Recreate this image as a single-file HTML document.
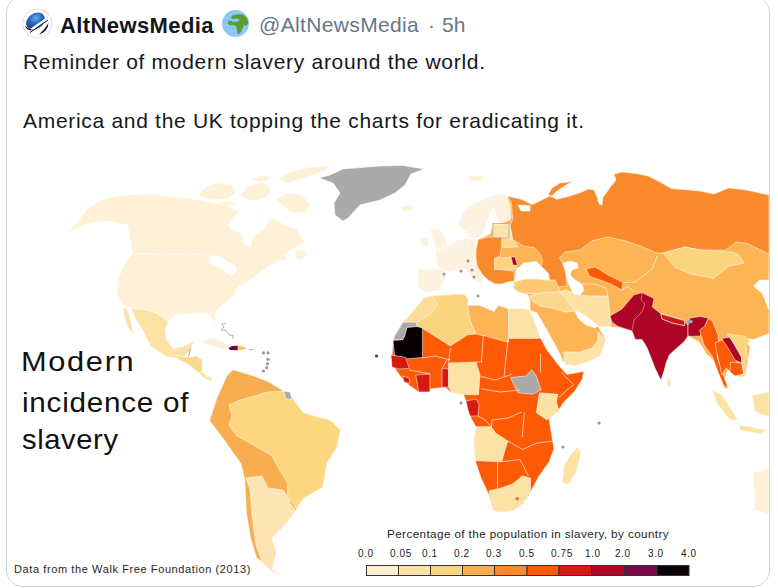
<!DOCTYPE html>
<html><head><meta charset="utf-8">
<style>
html,body{margin:0;padding:0;background:#fff;width:778px;height:588px;overflow:hidden;position:relative;font-family:"Liberation Sans",sans-serif;}
.card{position:absolute;left:6px;top:-4px;width:764px;height:591px;border:1px solid #cfd6db;border-radius:17px;box-sizing:border-box;}
.t{position:absolute;white-space:nowrap;}
#map{position:absolute;left:0;top:0;}
</style></head><body>
<svg id="map" width="778" height="588" viewBox="0 0 778 588">
<g stroke="#fff" stroke-width="0.7" stroke-opacity="0.75" stroke-linejoin="round">
<!-- North America -->
<path fill="#FEF1D8" d="M65,234 L75,225 L87.6,208.8 L100,200 L120,195.5 L150,193.8 L180,197.5 L200,200 L225,205 L238.7,211.8 L262,213 L267,222 L273,218 L285,225 L297,229 L300,235.8 L305.3,242.6 L294.4,248 L283.6,254.9 L287.4,258.7 L274.3,262.4 L261,271.8 L250,280.3 L238.7,286.7 L233.5,295.7 L222,304.7 L216.8,309.8 L214.5,317 L215.6,325.3 L211,316 L209,313.7 L198.8,312.4 L188.6,313.7 L175.7,315 L168,321.4 L157.7,313.7 L150,311 L131,308 L122.7,305.3 L116.4,292.8 L117.7,280 L125,262.7 L132.7,252.7 L127.7,225 L107.6,221 L87.6,224 L72.5,230 Z"/>
<path fill="#fff" stroke="none" d="M227.4,225 L238.7,211.8 L264.9,213.7 L268.6,219.3 L264.9,228.7 L253.7,236.2 L250,247.4 L244.3,243.7 L242.4,234.3 L231.2,228.7 Z"/>
<path fill="#fff" stroke="none" d="M209,258 L214,255 L222,257 L228,262 L236,266 L237,271 L232,276 L226,273 L221,268 L215,266 L211,263 Z"/>
<path fill="#FEF1D8" d="M198,196 L205,187 L218,183 L232,185 L236,192 L228,199 L212,200 Z M240,196 L248,186 L262,182 L272,188 L266,198 L252,201 Z M276,199 L288,193 L302,195 L311,205 L304,213 L290,212 Z M277,180 L290,172 L310,167 L332,165.7 L322,172 L305,178 L288,183 Z M250,180 L262,175 L272,177 L264,182 Z M215,203 L230,201 L238,204 L226,206 Z"/>
<path fill="#FEF1D8" d="M295,251 L302,249 L308,254 L301,260.5 L295,257 Z"/>
<!-- Greenland -->
<path fill="#AAAAAA" d="M319,178 L330,175 L343,169 L380,166 L403,165.5 L424,169 L411,174 L405,185 L395,193 L380,200 L360,205 L348,218 L343,221 L335,215 L334,203 L340,193 L333,183 Z"/>
<path fill="#FEF1D8" d="M399,207 L408,205 L414,209 L405,212 Z M468,176 L485,176 L480,181 L470,181 Z"/>
<!-- Mexico / Central America -->
<path fill="#FDE2A6" d="M131,308 L150,311 L157.7,313.7 L168,321.4 L165.4,329 L166.7,340 L173.8,349 L186,345 L194.3,340.8 L190.2,351 L182,358 L175,358 L167.6,357.2 L151,347 L143,331 L135,318 Z M123.4,307 L128,310 L131,322 L134,335 L128,328 L124,316 Z"/>
<path fill="#FBD98A" d="M176,355 L184,357 L191,357 L197,356 L202.4,360 L202.4,372 L199,373 L193,368 L186,363 L179,360 Z"/>
<path fill="#FDE2A6" d="M199,372 L202.4,372 L207,376 L211.7,378 L211.7,381.4 L206,379.5 L200,375 Z"/>
<!-- Caribbean -->
<path fill="#FEF1D8" stroke="none" d="M203,340 L212,338 L222,341 L229,346 L224,349 L214,346 L205,344 Z"/>
<path fill="none" stroke="#7d8aa5" stroke-width="0.9" d="M226,323.5 L221.5,324 L224,327 L221,330 L226,330.5 L229,335 L233,335.5 L233,339"/>
<path fill="#6e0a3e" stroke="none" d="M228.5,348 L232,346 L237.8,345.8 L237.8,350.3 L230,350 Z"/>
<path fill="#F8C46A" stroke="none" d="M237.8,345.8 L243,346.5 L246.8,348.5 L243,349.7 L237.8,350 Z"/>
<path fill="none" stroke="#7d8aa5" stroke-width="1" d="M249.4,349.4 L253.3,349.4"/>
<path fill="none" stroke="#7d8aa5" stroke-width="1" d="M190.5,348.5 L188.5,356.5"/>
<!-- South America -->
<path fill="#F8AE50" d="M227,375.6 L233,369.7 L252.5,375.6 L268,381.4 L283.8,391.2 L291.6,397 L303,412.7 L330.6,420.5 L340.4,430.3 L336.5,447.8 L326.7,463.5 L322.8,487 L303.3,498.6 L295.5,510.3 L287.7,522 L272,537.7 L276,553.3 L272,569 L283.8,576.8 L272,571 L256.4,557.3 L250.5,537.7 L246.6,514.3 L244.7,479 L240.8,463.5 L221.3,436 L209.5,420.5 L217.3,397 Z"/>
<path fill="#FDD680" d="M229,405 L240,400 L255,396 L268,392 L283.8,391.2 L291.6,397 L303,412.7 L330.6,420.5 L340.4,430.3 L336.5,447.8 L326.7,463.5 L322.8,487 L303.3,498.6 L295.5,508 L287.7,494.7 L287.7,483 L280,471 L272,455.7 L244.7,440 L237,436 L229,425 L232,415 Z"/>
<path fill="#FCE4B3" d="M246,478 L262,476 L268,488 L283,490 L290,500 L289.6,502.5 L295.5,510.3 L287.7,522 L272,537.7 L276,553.3 L272,569 L283.8,576.8 L272,571 L262,562 L256,545 L252,515 L250,490 Z"/>
<path fill="#AAAAAA" d="M283.8,391.2 L290,392 L292,399 L286,399 Z"/>
<!-- Europe -->
<path fill="#FDF2E0" d="M458,224 L462,214 L470,206 L480,201 L492,196 L502,194 L509,196 L511,201 L512.6,219 L509,222 L503,224 L499,222 L496,214 L493,208 L490,212 L487,222 L484,232 L478,238 L472,237 L467,233 Z M430,230 L438,228 L445,236 L448,249 L436,251 L434,243 Z M420.4,238 L428,237 L429,246 L421,247.5 Z M435,250 L448,246 L455,241 L463,239 L470,239 L476,239 L476,250 L476,258 L477,266 L482,274 L482,283 L476,282 L470,274 L464,268 L458,270 L450,272 L443,270 L437,264 Z M418,269 L443,269 L446,277 L440,290 L426,293 L418,287 Z M468,228 L474,228 L476,238 L468,238 Z"/>
<!-- Eurasia base -->
<path fill="#FCB455" d="M478,239.5 L490,234 L493,224 L505,222 L511,219 L510,205 L507,196 L521.4,199.3 L532,204.6 L535.7,203 L550,196 L557,199.3 L570,196 L582,192 L588,189 L594,190 L597,197 L599,204 L602,205 L603,197 L607,192 L611,186 L616,180 L614,174 L622,172 L636,173.5 L648,176 L660,182 L671.4,188.6 L700,191 L714,194 L728.6,188 L746.4,190 L769,195 L769,280 L759.6,280 L753.5,286 L762.7,294 L767.3,306 L769,310 L769,333.5 L753.5,339.6 L744,338 L750,347 L748,362 L742,375 L738,377 L735,366 L729,366 L724,381 L729,388.5 L724,388.5 L718,372 L716,362 L707,355 L699,342 L688,336 L684.7,341 L669.4,354.7 L666,363.2 L664.3,370 L660.9,380.2 L655,368 L647.2,347.9 L642.1,339.4 L635.3,339.4 L632,330.9 L620,327.4 L611,327 L598,326 L606,340 L600,356 L588,362 L574,366 L564,364 L560,354 L548,332 L537,313 L530,310 L530,300 L528,295 L518,292 L513,288 L514,282 L508,280 L502,284 L495,284 L488,280 L482,274 L477,266 L476,258 L476,250 Z"/>
<path fill="#F98B2C" d="M507,196 L521.4,199.3 L532,204.6 L535.7,203 L550,196 L557,199.3 L570,196 L582,192 L588,189 L594,190 L597,197 L599,204 L602,205 L603,197 L607,192 L611,186 L616,180 L614,174 L622,172 L636,173.5 L648,176 L660,182 L671.4,188.6 L700,191 L714,194 L728.6,188 L746.4,190 L769,195 L769,254 L746,243 L736,242 L726,250 L700,250 L685,247 L663,253 L657,253 L638.6,245.4 L624.7,240.8 L607.8,237 L592.3,240.8 L580,250 L565,252 L559.5,258 L562,262 L566,272 L567,286 L558,287 L549,280 L548.7,274 L541,266 L542.5,261.6 L541,255.4 L534.4,247.6 L523.5,246.2 L512.6,239.4 L510,225.8 L512.6,219 L511.2,201.3 Z M548,195 L552,188 L560,183 L573,181.5 L566,185 L557,191 L552,196 Z"/>
<path fill="#fff" d="M518,205 L530,205.5 L530,211 L521,211 Z"/>
<path fill="#FBD98E" d="M501.7,236.7 L512.6,239.4 L518,247 L501.7,247.6 L500,242 Z"/>
<path fill="#FCE3A8" d="M493,224 L508.5,224 L510,226 L512.6,239.4 L501,237 L493,237 Z"/>
<path fill="#F98B2C" d="M478,239.5 L488,237 L501.7,237 L501.7,247.6 L500,256 L495,258 L494.7,269 L514,271 L514.7,281 L508,282 L502,284 L495,284 L488,280 L482,274 L477,266 L476,258 L476,250 Z"/>
<path fill="#FBD47F" d="M494.7,258.5 L511,257 L517,265 L514.7,269.3 L494.7,269.3 Z"/>
<path fill="#AC0525" d="M511,257 L515,257 L517.5,265.5 L513,265 Z"/>
<path fill="#FBCB72" d="M513.2,287.8 L516.3,281.7 L524,279 L534.8,278.6 L548,280 L554.9,280 L558,286.3 L560,292 L547,292.5 L536,294 L524,293.2 L518,292 Z"/>
<path fill="#fff" d="M514.7,281.7 L516.3,269.3 L524,263 L536.4,261.6 L541,266.2 L548.7,274 L549,280 L534.8,278.6 L524,279 Z"/>
<path fill="#FCD88E" d="M530,296 L536,294 L547,292.5 L560,292 L566,290 L568,300 L575,311 L565,312 L552,308 L540,306 L533,302 Z"/>
<path fill="#FDE0A4" d="M560,292 L566,290 L573,293 L580,295 L590,296 L608,296 L610,314 L611,327 L598,326 L590,320 L583,315 L575,311 L568,300 Z"/>
<path fill="#fff" d="M563,263 L570,261 L577,263 L578,268 L572,270 L570,275 L575,280 L582,284 L584,290 L580,295 L573,293 L570,287 L567,279 L565,270 Z"/>
<path fill="#FE5A06" d="M586.2,268.6 L595.4,267 L607.8,274.7 L623.2,282.5 L621.7,290 L610.9,284 L600,280 L589.3,276.3 Z"/>
<path fill="#fff" d="M575,311 L583,314 L592,321 L598,326 L595,328 L586,325 L578,318 Z"/>
<path fill="#FDE2A6" d="M564,352 L580,352 L592,348 L598,340 L598,332 L606,340 L600,356 L588,362 L574,366 L564,364 Z"/>
<path fill="#FBD47F" d="M663.3,253 L685,247 L700,250 L733.5,252.3 L740,256 L744,263 L729,266 L713.6,278.3 L694,274.7 L690.6,273.7 L675.3,267.6 Z"/>
<!-- South Asia -->
<path fill="#AC0525" d="M610,316 L622,309 L627,303 L633.6,295.1 L642.1,292.6 L654,298.5 L652.3,307 L660.9,313.8 L684.7,320.6 L688,325.7 L688,336 L684.7,341 L669.4,354.7 L666,363.2 L664.3,370 L660.9,380.2 L655,368 L647.2,347.9 L642.1,339.4 L635.3,339.4 L632,330.9 L618,326.4 L612,322 Z"/>
<path fill="none" stroke="#f4a0a8" stroke-width="0.8" d="M642.1,292.6 L641,300 L645,304 L642,312 L634,320 L632,330.9"/>

<path fill="#C81A18" stroke-width="1" d="M660.9,313.8 L684.7,320.6 L684.7,325.7 L672,323 L662,319 Z"/>





<path fill="#AC0525" d="M688,325.7 L690,318 L700,316.5 L708.4,318 L705,326 L700,336 L692,336.4 L688,336 Z"/>
<path fill="#FE5A06" d="M699.6,330 L705,326 L708.4,318 L713,322 L718,335 L719.4,348 L717,356 L722,372 L728,387 L724,386 L718,372 L712,356 L704,345 Z"/>
<path fill="#FE5A06" d="M715,343 L722,340 L729,343 L737,355 L737,374 L731,372 L726,368 L722,375 L718,358 Z"/>
<path fill="#AC0525" d="M721.7,338.6 L730,337 L741.5,357 L741.5,363 L735,360 L728,348 Z"/>
<path fill="#FE5A06" d="M730.5,362 L741.5,363 L743.8,374 L735,376 L730,372 Z"/>
<path fill="#FBD47F" d="M727,334 L744,336 L750.4,340.8 L746,346 L748,362 L745,376 L738,378.4 L743.8,374 L741.5,357 L735,345 Z"/>
<ellipse cx="689.8" cy="321.5" rx="3" ry="1.8" fill="#9aa3b8" stroke="none"/>
<path fill="#FDE2A6" d="M667,378.5 L670.5,379.5 L671,387 L667.5,386 Z M712,390 L722,395 L738,420 L730,420 L718,405 Z M739,425 L767,430 L760,434 L740,430 Z M752,395 L769,392 L769,417 L755,412 Z"/>
<path fill="#FEF1D8" d="M753,473 L769,468 L769,515 L755,510 Z"/>
<!-- Africa -->
<path fill="#FE5A06" d="M424.3,297.5 L432,296 L463,294 L468,298 L467.8,305.4 L480,305.4 L494,311.6 L498.6,305.4 L508.5,309 L520,308.5 L530,310 L539.4,336 L547,350 L556.3,362.2 L562.4,369.8 L567,374.4 L583.8,371.3 L582.3,379 L574.6,391.3 L564,402 L557.8,411.2 L549,418 L551,431 L554,449 L549,462 L539,476 L531,491 L524,503 L512,511 L498,512 L493,509 L489,495 L481,478 L475,460 L474,441 L476,427 L471,418 L467,404 L463.5,394.7 L452.3,392.8 L444.8,387.2 L429.9,389 L418.6,391.9 L409.3,385.3 L401.8,377.9 L396.2,370.4 L391.5,361 L393.4,338.6 L401.8,323.6 L407.4,318 L415,308.7 Z"/>
<path fill="#FBD47F" d="M424.3,297.5 L432,296 L463,294 L468,298 L467.8,305.4 L470,320 L476,334 L467.2,334.9 L450.4,346 L422.4,328.3 L415.8,326.4 L401.8,323.6 L407.4,318 L415,308.7 Z"/>
<path fill="#FCDC98" d="M424.3,297.5 L432,296 L437,304 L432,313 L420,320 L415.8,323 L401.8,323.6 L407.4,318 L415,308.7 Z"/>
<path fill="#FCB455" d="M467.8,305.4 L480,305.4 L494,311.6 L498.6,305.4 L508.5,309 L508.5,342.5 L486.3,336.3 L476,334 L470,320 Z"/>
<path fill="#FDE2A6" d="M508.5,309 L520,308.5 L530,310 L539.4,336 L539.4,338.4 L508.8,338.4 Z"/>
<path fill="#AAAAAA" d="M402.9,322.2 L416.5,322.2 L416.5,326.5 L407,327.5 L404.6,336.3 L402.9,339.7 L393.5,339.7 L395,335 L400,328 Z"/>
<path fill="#080004" d="M407,327.5 L417,326.5 L422.4,328 L422.4,357.5 L405,359 L397,359 L394.4,354 L393,340.5 L402.9,339.7 L404.6,336.3 Z"/>
<path fill="#D61A10" d="M391,355 L405.6,357.3 L409.3,368.5 L399,369 L392,367 Z M402.8,376 L409.3,378 L409.3,383.5 L404,382 Z M415.8,375 L429.9,374 L429.9,391.9 L418.6,391.9 Z M442,368.5 L448.6,369 L448.6,387.2 L442,387.2 Z M466,401 L476,399 L479,404 L478,416 L470,416 L468,410 Z"/>
<path fill="#FDE2A6" d="M448.6,363 L476,362 L480,375 L478.5,394.7 L463.5,394.7 L452.3,392.8 L448.6,387 Z"/>
<path fill="#AAAAAA" d="M510.3,377.5 L525.6,376 L531.8,369.8 L536.3,376 L541,389.7 L533.3,394.3 L518,392.8 Z"/>
<path fill="#FDE2A6" d="M539.4,392.8 L557.8,394.3 L556.3,402 L559.3,411.2 L549,418 L547,420 L536.3,412.7 Z M476,426.7 L491.4,426.7 L495.5,433 L508,441 L505.8,447.3 L501.7,461.7 L475,460.7 L474.5,441 Z M489.4,490.5 L499.6,488.4 L512,484.3 L522.3,476 L530.5,478 L530.5,490.5 L524.3,502.8 L512,511 L497.6,512 L493.5,509 L489.4,494.6 Z M577,447 L581,452 L577,470 L568,485 L562,482 L564,465 L570,455 Z"/>
</g>
<path fill="none" stroke="#fff" stroke-width="0.8" stroke-opacity="0.8" d="M421.7,358 L435,356 L450.5,360 M450.5,347.6 L448.5,362 M483.4,335 L481.4,362 L476,362 M508,339.4 L504,376.4 M480.9,376.4 L495,380 L511.7,374.4 M540.5,353.8 L540.5,372.3 M561,372.3 L573.5,384.6 L559,397 M480.9,388.8 L500,392 L520,390 M491.4,426.7 L492,420 L508,418 L522,412 M508,441 L522.3,449.4 L536.7,443.2 L553,441 M497.6,461.7 L497.6,488.4 M501.7,461.7 L520,459.6 L528.4,476 M524.3,412.3 L522.3,437 M409,370 L420,372 L430,374 M442,368.5 L447,360 M466,401 L462,395 M478,416 L485,420 L491.4,426.7"/>
<path fill="none" stroke="#fff" stroke-width="0.8" stroke-opacity="0.8" d="M132.7,254 L210,254.5"/>
<rect x="493" y="223.5" width="16" height="14.5" fill="none" stroke="#b9a99a" stroke-width="0.8"/>
<path fill="none" stroke="#fff" stroke-width="0.8" stroke-opacity="0.8" d="M657,256 L652.5,268.6 L644.8,274.7 L635,282 L623.2,282.5 M634,292 L628,286 L622,290 M608,296 L606,288 L595,284 L583,284"/>
<g fill="#999">
<circle cx="468" cy="261" r="1.6"/><circle cx="461" cy="271" r="1.6"/><circle cx="472" cy="270" r="1.6"/><circle cx="444" cy="274" r="1.6"/><circle cx="474" cy="277" r="1.6"/><circle cx="478" cy="296" r="1.6"/><circle cx="461" cy="403" r="1.6"/><circle cx="563" cy="447" r="1.6"/><circle cx="599" cy="423" r="1.6"/>
<circle cx="263.5" cy="352.9" r="1.6"/><circle cx="268" cy="352.9" r="1.6"/><circle cx="268" cy="359.3" r="1.6"/><circle cx="267.4" cy="363.8" r="1.6"/><circle cx="266.8" cy="367.7" r="1.6"/><circle cx="263.5" cy="371" r="1.6"/>
</g>
<circle cx="376.5" cy="356" r="1.6" fill="#a01020"/>
<circle cx="517.2" cy="498.8" r="1.8" fill="#F07020"/>
<!-- legend -->
<g stroke="#333" stroke-width="1">
<rect x="366.5" y="565.5" width="32" height="10" fill="#FEF0CE"/>
<rect x="398.5" y="565.5" width="32" height="10" fill="#FDE2A6"/>
<rect x="430.5" y="565.5" width="32" height="10" fill="#FBD47F"/>
<rect x="462.5" y="565.5" width="32" height="10" fill="#F9AE4D"/>
<rect x="494.5" y="565.5" width="32.5" height="10" fill="#F98B2C"/>
<rect x="527" y="565.5" width="32" height="10" fill="#FE5A06"/>
<rect x="559" y="565.5" width="32.5" height="10" fill="#D61A10"/>
<rect x="591.5" y="565.5" width="33" height="10" fill="#AC0525"/>
<rect x="624.5" y="565.5" width="32.5" height="10" fill="#7A0646"/>
<rect x="657" y="565.5" width="32" height="10" fill="#080004"/>
</g>
</svg>
<div class="card"></div>
<!-- header -->
<svg style="position:absolute;left:22px;top:8px" width="31" height="31" viewBox="0 0 31 31">
<defs><radialGradient id="gb" cx="0.6" cy="0.35" r="0.75"><stop offset="0" stop-color="#5fb0e6"/><stop offset="0.45" stop-color="#2a66bd"/><stop offset="1" stop-color="#172f7a"/></radialGradient></defs>
<circle cx="15.2" cy="15.5" r="14.6" fill="#fff" stroke="#e0d8da" stroke-width="0.9"/>
<ellipse cx="13.5" cy="13" rx="10.2" ry="7.6" transform="rotate(-35 13.5 13)" fill="url(#gb)"/>
<path d="M4.5,25 L28,8.5" stroke="#fff" stroke-width="2.6"/>
<path d="M8,24.5 L26,12" stroke="#1a1a1a" stroke-width="1"/>
<path d="M10,27 L27.5,14.5" stroke="#fff" stroke-width="1.6"/>
<path d="M3,17.5 Q4.5,23.5 12.5,22 Q6.5,21.5 3,17.5 Z" fill="#111"/>
<path d="M26.5,15 Q26,23.5 17,26.5 Q23,21.5 26.5,15 Z" fill="#111"/>
<path d="M20.5,5 L23.5,2.8 M23.5,7 L26.5,4.8" stroke="#e8b8b8" stroke-width="0.8"/>
</svg>
<div class="t" style="left:60px;top:13px;font-size:22px;font-weight:bold;color:#14171a;letter-spacing:0.4px;">AltNewsMedia</div>
<svg style="position:absolute;left:222px;top:10px" width="27" height="27" viewBox="0 0 27 27">
<circle cx="13.5" cy="13.4" r="13.4" fill="#8cc8f5"/>
<path d="M8,8 L11,5.2 L16,4.2 L21,4.5 L25,8 L26.5,13 L24,16 L22,15 L20.5,18.5 L19,22 L16,24.5 L15,21 L14.5,17 L12,14.8 L8,15.5 L5.5,13.5 L6.5,10.5 L9,11 L12,12 L16,11.5 L18,10 L15,8.5 L11.5,9 Z" fill="#5b9c30"/>
</svg>
<div class="t" style="left:259px;top:13px;font-size:21px;color:#657786;letter-spacing:0.35px;">@AltNewsMedia</div>
<div class="t" style="left:428px;top:13px;font-size:21px;color:#657786;">·</div>
<div class="t" style="left:442px;top:13px;font-size:21px;color:#657786;">5h</div>
<div class="t" style="left:23px;top:50px;font-size:21px;color:#14171a;letter-spacing:0.7px;">Reminder of modern slavery around the world.</div>
<div class="t" style="left:23px;top:109px;font-size:21px;color:#14171a;letter-spacing:0.7px;">America and the UK topping the charts for eradicating it.</div>
<div class="t" style="left:21px;top:346px;font-size:28px;color:#111;letter-spacing:1.5px;line-height:32px;transform:scaleX(1.1);transform-origin:0 0;">Modern</div>
<div class="t" style="left:22px;top:387px;font-size:28px;color:#111;letter-spacing:0.7px;line-height:32px;transform:scaleX(1.06);transform-origin:0 0;">incidence of</div>
<div class="t" style="left:22px;top:424px;font-size:28px;color:#111;letter-spacing:0.6px;line-height:32px;transform:scaleX(1.04);transform-origin:0 0;">slavery</div>
<div class="t" style="left:14px;top:563px;font-size:11px;color:#262626;letter-spacing:0.6px;">Data from the Walk Free Foundation (2013)</div>
<div class="t" style="left:387px;top:527px;font-size:11.7px;color:#1e1e1e;letter-spacing:0.4px;">Percentage of the population in slavery, by country</div>
<div style="position:absolute;left:0;top:548px;font-size:10px;color:#222;letter-spacing:0.6px;">
<span class="t" style="left:358px">0.0</span><span class="t" style="left:390px">0.05</span><span class="t" style="left:422px">0.1</span><span class="t" style="left:454px">0.2</span><span class="t" style="left:486px">0.3</span><span class="t" style="left:519px">0.5</span><span class="t" style="left:551px">0.75</span><span class="t" style="left:585px">1.0</span><span class="t" style="left:615px">2.0</span><span class="t" style="left:648px">3.0</span><span class="t" style="left:681px">4.0</span>
</div>
</body></html>
